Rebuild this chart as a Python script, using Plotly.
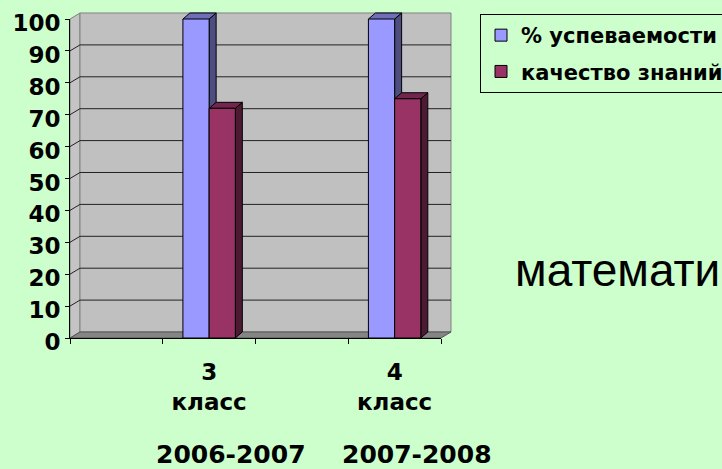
import plotly.graph_objects as go

# ---------------- data ----------------
categories = ["", "3<br>класс", "", "4<br>класс"]
series_names = ["% успеваемости", "качество знаний"]
uspevaemost = [None, 100, None, 100]
kachestvo = [None, 72, None, 75]
years = ["2006-2007", "2007-2008"]
year_positions = [1, 3]
y_ticks = [0, 10, 20, 30, 40, 50, 60, 70, 80, 90, 100]
subject = "математика"

# ---------------- layout constants ----------------
W, H = 722, 469
ML, MR, MT, MB = 70, 281, 19, 131
PW = W - ML - MR
PH = H - MT - MB
XMIN, XMAX = -0.5, len(categories) - 0.5
YMAX = 100
BARGAP = 0.435
WALL_DX, WALL_DY = 10, 6
BAR_DX, BAR_DY = 7, 6

BLUE, BLUE_SIDE, BLUE_TOP = "#9999FF", "#4D4D80", "#6E6EBA"
RED, RED_SIDE, RED_TOP = "#993366", "#4D1A33", "#73264D"
BOLD = dict(family="DejaVu Sans", weight="bold", color="black")


def xp(xd):
    return (xd - XMIN) / (XMAX - XMIN)


def yp(v):
    return v / YMAX


def pdx(p):
    return p / PW


def pdy(p):
    return p / PH


def path(pts):
    return "M" + " L".join(f"{x:.5f},{y:.5f}" for x, y in pts) + " Z"


shapes = []
wdx, wdy = pdx(WALL_DX), pdy(WALL_DY)
# left wall
shapes.append(dict(type="path", xref="paper", yref="paper", layer="below",
                   path=path([(0, 0), (wdx, wdy), (wdx, 1 + wdy), (0, 1)]),
                   fillcolor="#C4C4C4", line=dict(color="#808080", width=1)))
# back wall
shapes.append(dict(type="path", xref="paper", yref="paper", layer="below",
                   path=path([(wdx, wdy), (1 + wdx, wdy), (1 + wdx, 1 + wdy), (wdx, 1 + wdy)]),
                   fillcolor="#C0C0C0", line=dict(color="#808080", width=1)))
# gridlines on side + back wall
for t in y_ticks[1:-1]:
    ty = yp(t)
    shapes.append(dict(type="path", xref="paper", yref="paper", layer="below",
                       path=f"M0,{ty:.5f} L{wdx:.5f},{ty + wdy:.5f} L{1 + wdx:.5f},{ty + wdy:.5f}",
                       line=dict(color="#222222", width=1)))
# floor
shapes.append(dict(type="path", xref="paper", yref="paper", layer="below",
                   path=path([(0, 0), (1, 0), (1 + wdx, wdy), (wdx, wdy)]),
                   fillcolor="#858585", line=dict(color="#555555", width=1)))

# 3D faces of bars (computed from the data values)
gw = 1 - BARGAP
bdx, bdy = pdx(BAR_DX), pdy(BAR_DY)
for i in range(len(categories)):
    for k, (vals, side_c, top_c) in enumerate([(uspevaemost, BLUE_SIDE, BLUE_TOP),
                                                 (kachestvo, RED_SIDE, RED_TOP)]):
        v = vals[i]
        if v is None:
            continue
        x0 = i - gw / 2 + k * gw / 2
        x1 = x0 + gw / 2
        X0, X1, Yv = xp(x0), xp(x1), yp(v)
        shapes.append(dict(type="path", xref="paper", yref="paper", layer="below",
                           path=path([(X1, 0), (X1 + bdx, bdy), (X1 + bdx, Yv + bdy), (X1, Yv)]),
                           fillcolor=side_c, line=dict(color="black", width=1)))
        shapes.append(dict(type="path", xref="paper", yref="paper", layer="below",
                           path=path([(X0, Yv), (X0 + bdx, Yv + bdy), (X1 + bdx, Yv + bdy), (X1, Yv)]),
                           fillcolor=top_c, line=dict(color="black", width=1)))

xs = list(range(len(categories)))
fig = go.Figure()
fig.add_trace(go.Bar(x=xs, y=uspevaemost, name=series_names[0], legendgroup="a",
                     marker=dict(color=BLUE, line=dict(color="black", width=1)),
                     cliponaxis=False))
fig.add_trace(go.Bar(x=xs, y=kachestvo, name=series_names[1], legendgroup="b",
                     marker=dict(color=RED, line=dict(color="black", width=1)),
                     cliponaxis=False))

annotations = []
for yr, pos in zip(years, year_positions):
    annotations.append(dict(text=yr, x=pos, xref="x", xshift=22,
                            y=-(454 - 338) / PH, yref="paper", yanchor="middle",
                            showarrow=False, font=dict(size=25, **BOLD)))
annotations.append(dict(text=subject, x=(513 - ML) / PW, xref="paper", xanchor="left",
                        y=(338 - 270) / PH, yref="paper", yanchor="middle",
                        showarrow=False,
                        font=dict(family="Liberation Sans", size=46, color="black")))

fig.update_layout(
    width=W, height=H,
    margin=dict(l=ML, r=MR, t=MT, b=MB, pad=0, autoexpand=False),
    paper_bgcolor="#CCFFCC", plot_bgcolor="rgba(0,0,0,0)",
    barmode="group", bargap=BARGAP, bargroupgap=0,
    shapes=shapes, annotations=annotations,
    showlegend=True,
    legend=dict(x=480 / W, xref="container", xanchor="left",
                y=1 - 14 / H, yref="container", yanchor="top",
                bgcolor="rgba(0,0,0,0)", bordercolor="black", borderwidth=1,
                font=dict(size=21, **BOLD), traceorder="grouped",
                tracegroupgap=6, itemclick=False),
    xaxis=dict(range=[XMIN, XMAX], tickmode="array", tickvals=xs, ticktext=categories,
               ticks="", showgrid=False, zeroline=False, showline=True,
               linecolor="black", linewidth=1, tickfont=dict(size=23, **BOLD),
               ticklabelstandoff=13,
               minor=dict(tickmode="array",
                          tickvals=[c - 0.5 for c in range(len(categories) + 1)],
                          ticks="outside", ticklen=5, tickcolor="black", showgrid=False)),
    yaxis=dict(range=[0, YMAX], tickmode="array", tickvals=y_ticks,
               ticks="outside", ticklen=4, tickcolor="black",
               showgrid=False, zeroline=False, showline=True, ticklabelshift=4,
               linecolor="black", linewidth=1, tickfont=dict(size=23, **BOLD)),
)

fig.write_html("out.html", config={"displayModeBar": False},
               post_script="document.body.style.margin='0';document.body.style.overflow='hidden';")
